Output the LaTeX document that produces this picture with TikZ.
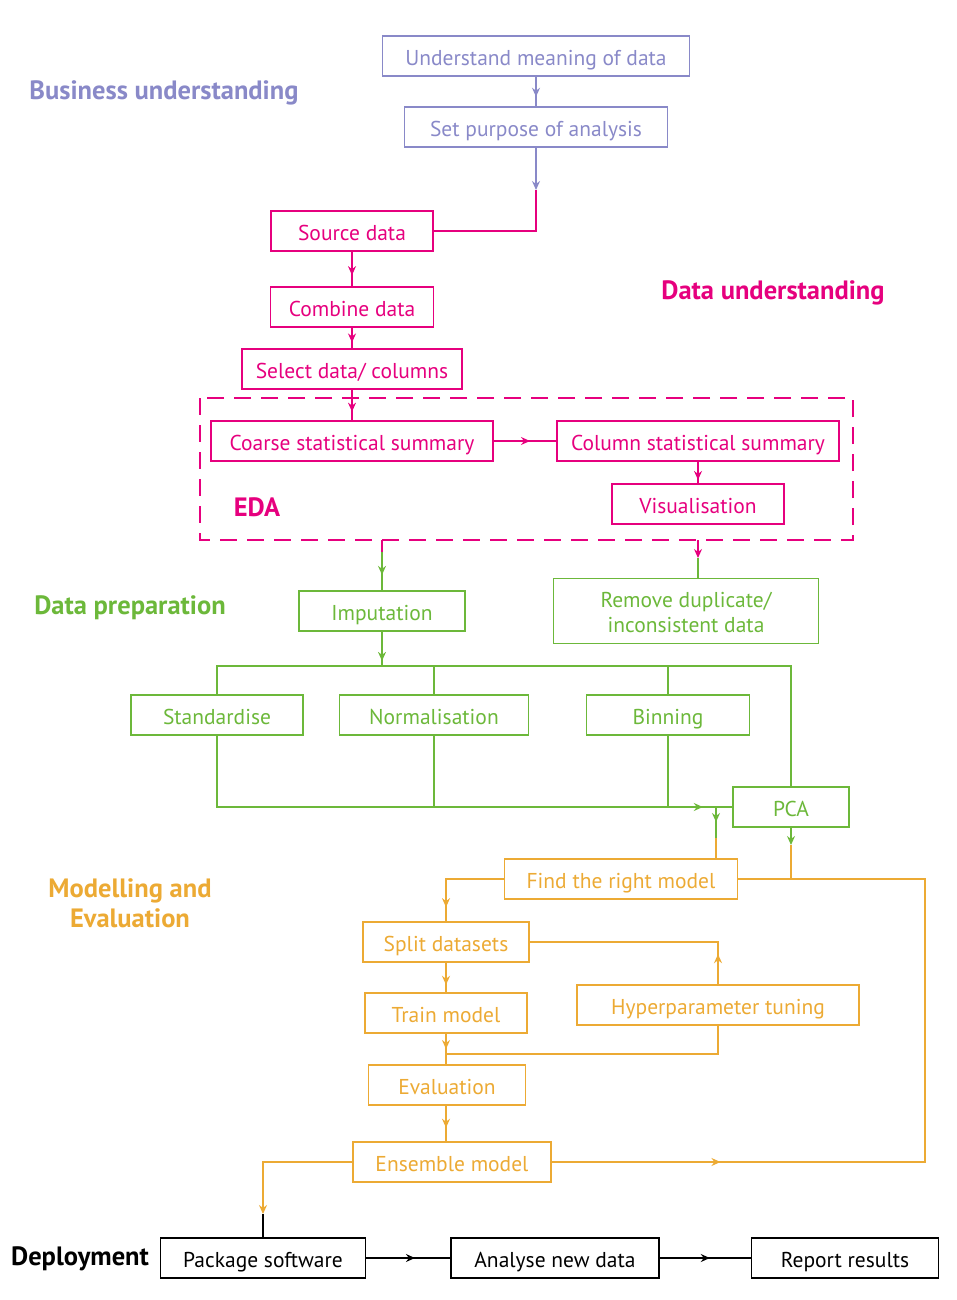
\documentclass[tikz,border=0pt]{standalone}
\usepackage{fontspec}
\setmainfont{PT Sans}
\usetikzlibrary{arrows.meta, positioning, decorations.markings}

\definecolor{bizpurple}{RGB}{137,137,200}
\definecolor{datapink}{RGB}{230,0,126}
\definecolor{prepgreen}{RGB}{108,184,58}
\definecolor{modelorange}{RGB}{236,170,52}

\tikzset{
    stepbox/.style={
        rectangle, minimum height=40pt, text centered, draw, line width=1.8pt, inner sep=2pt,
        text height=22pt, text depth=3pt, font=\fontsize{21.5}{25}\selectfont
    },
    phase/.style={
        font=\fontsize{26.5}{30}\selectfont\bfseries, align=center
    },
    link/.style={
        line width=1.8pt
    },
    tip/.style={
        link, -{Stealth[length=9pt, width=8pt, inset=3pt]}
    },
    midarrow/.style={
        link, postaction={decorate},
        decoration={markings, mark=at position #1 with {\arrow{Stealth[length=9pt, width=8pt, inset=3pt]}}}
    }
}

\begin{document}
\begin{tikzpicture}[x=1pt, y=-1pt]
    \useasboundingbox (0,0) rectangle (957,1300);

    % Business understanding
    \node[phase, text=bizpurple] (bizlabel) at (164,93) {Business understanding};
    \node[stepbox, draw=bizpurple, text=bizpurple, minimum width=307pt] (meaning) at (536,56) {Understand meaning of data};
    \node[stepbox, draw=bizpurple, text=bizpurple, minimum width=263pt] (purpose) at (536,127) {Set purpose of analysis};

    % Data understanding
    \node[phase, text=datapink] (datalabel) at (773,293) {Data understanding};
    \node[stepbox, draw=datapink, text=datapink, minimum width=162pt] (source) at (352,231) {Source data};
    \node[stepbox, draw=datapink, text=datapink, minimum width=163pt] (combine) at (352,307) {Combine data};
    \node[stepbox, draw=datapink, text=datapink, minimum width=220pt] (select) at (352,369) {Select data/ columns};

    % EDA
    \draw[datapink, line width=1.8pt, dash pattern=on 17pt off 10pt] (200,398) rectangle (853,540);
    \coordinate (edaL) at (382,540);
    \coordinate (edaR) at (698,540);
    \node[phase, text=datapink] (edalabel) at (257,507) {EDA};
    \node[stepbox, draw=datapink, text=datapink, minimum width=282pt] (coarse) at (352,441) {Coarse statistical summary};
    \node[stepbox, draw=datapink, text=datapink, minimum width=282pt] (column) at (698,441) {Column statistical summary};
    \node[stepbox, draw=datapink, text=datapink, minimum width=172pt] (visual) at (698,504) {Visualisation};

    % Data preparation
    \node[phase, text=prepgreen] (preplabel) at (130,608) {Data preparation};
    \node[stepbox, draw=prepgreen, text=prepgreen, minimum width=166pt] (imputation) at (382,611) {Imputation};
    \node[stepbox, draw=prepgreen, text=prepgreen, minimum width=265pt, minimum height=65pt, align=center, text height=47pt, text depth=4pt] (remove) at (686,611) {Remove duplicate/\\inconsistent data};
    \node[stepbox, draw=prepgreen, text=prepgreen, minimum width=172pt] (standardise) at (217,715) {Standardise};
    \node[stepbox, draw=prepgreen, text=prepgreen, minimum width=189pt] (normalisation) at (434,715) {Normalisation};
    \node[stepbox, draw=prepgreen, text=prepgreen, minimum width=163pt] (binning) at (668,715) {Binning};
    \node[stepbox, draw=prepgreen, text=prepgreen, minimum width=116pt] (pca) at (791,807) {PCA};

    % Modelling and Evaluation
    \node[phase, text=modelorange] (modellabel) at (130,903) {Modelling and\\Evaluation};
    \node[stepbox, draw=modelorange, text=modelorange, minimum width=233pt] (find) at (621,879) {Find the right model};
    \node[stepbox, draw=modelorange, text=modelorange, minimum width=166pt] (split) at (446,942) {Split datasets};
    \node[stepbox, draw=modelorange, text=modelorange, minimum width=162pt] (train) at (446,1013) {Train model};
    \node[stepbox, draw=modelorange, text=modelorange, minimum width=282pt] (hyper) at (718,1005) {Hyperparameter tuning};
    \node[stepbox, draw=modelorange, text=modelorange, minimum width=157pt] (evaluation) at (447,1085) {Evaluation};
    \node[stepbox, draw=modelorange, text=modelorange, minimum width=198pt] (ensemble) at (452,1162) {Ensemble model};

    % Deployment
    \node[phase] (deploylabel) at (80,1259) {Deployment};
    \node[stepbox, minimum width=205pt] (package) at (263,1258) {Package software};
    \node[stepbox, minimum width=208pt] (analyse) at (555,1258) {Analyse new data};
    \node[stepbox, minimum width=187pt] (report) at (845,1258) {Report results};

    % Helper coordinates
    \coordinate (bizend) at (536,190);
    \coordinate (edaLmid) at (382,552);
    \coordinate (edaRmid) at (698,558);
    \coordinate (busR) at (791,666);
    \coordinate (branch) at (716,807);
    \coordinate (branchmid) at (716,838);
    \coordinate (pcamid) at (791,845);
    \coordinate (loopR) at (925,879);
    \coordinate (tunejoin) at (446,1054);
    \coordinate (deploymid) at (263,1214);

    % Business connectors
    \draw[bizpurple, midarrow=0.68] (meaning) -- (purpose);
    \draw[bizpurple, tip] (purpose.south) -- (bizend);
    \draw[datapink, link] (bizend) |- (source.east);

    % Data understanding connectors
    \draw[datapink, midarrow=0.68] (source) -- (combine);
    \draw[datapink, midarrow=0.72] (combine) -- (select);
    \draw[datapink, midarrow=0.72] (select) -- (coarse);
    \draw[datapink, midarrow=0.58] (coarse) -- (column);
    \draw[datapink, midarrow=0.85] (column) -- (visual);

    % EDA to preparation
    \draw[datapink, link] (edaL) -- (edaLmid);
    \draw[prepgreen, midarrow=0.6] (edaLmid) -- (imputation.north);
    \draw[datapink, tip] (edaR) -- (edaRmid);
    \draw[prepgreen, link] (edaRmid) -- (edaRmid |- remove.north);

    % Preparation bus
    \draw[prepgreen, midarrow=0.85] (imputation.south) -- (imputation.south |- busR);
    \draw[prepgreen, link] (standardise.north) |- (busR) -- (pca.north);
    \draw[prepgreen, link] (normalisation.north) -- (normalisation.north |- busR);
    \draw[prepgreen, link] (binning.north) -- (binning.north |- busR);
    \draw[prepgreen, midarrow=0.95] (standardise.south) |- (pca.west);
    \draw[prepgreen, link] (normalisation.south) -- (normalisation.south |- pca.west);
    \draw[prepgreen, link] (binning.south) -- (binning.south |- pca.west);

    % Preparation to modelling
    \draw[prepgreen, tip] (branch) -- (716,822);
    \draw[prepgreen, link] (716,820) -- (branchmid);
    \draw[modelorange, link] (branchmid) -- (branchmid |- find.north);
    \draw[prepgreen, tip] (pca.south) -- (pcamid);
    \draw[modelorange, link] (pcamid) -- (pcamid |- find.east);

    % Modelling connectors
    \draw[modelorange, midarrow=0.86] (find.west) -| (split.north);
    \draw[modelorange, midarrow=0.75] (split) -- (train);
    \draw[modelorange, midarrow=0.13] (hyper.north) |- (split.east);
    \draw[modelorange, midarrow=0.5] (train) -- (train.south |- evaluation.north);
    \draw[modelorange, link] (hyper.south) |- (tunejoin);
    \draw[modelorange, midarrow=0.62] (train.south |- evaluation.south) -- (train.south |- ensemble.north);
    \draw[modelorange, midarrow=0.2] (ensemble.east) -| (loopR) -- (find.east);

    % Deployment connectors
    \draw[modelorange, tip] (ensemble.west) -| (deploymid);
    \draw[link] (deploymid) -- (package.north);
    \draw[midarrow=0.58] (package) -- (analyse);
    \draw[midarrow=0.55] (analyse) -- (report);

\end{tikzpicture}
\end{document}
